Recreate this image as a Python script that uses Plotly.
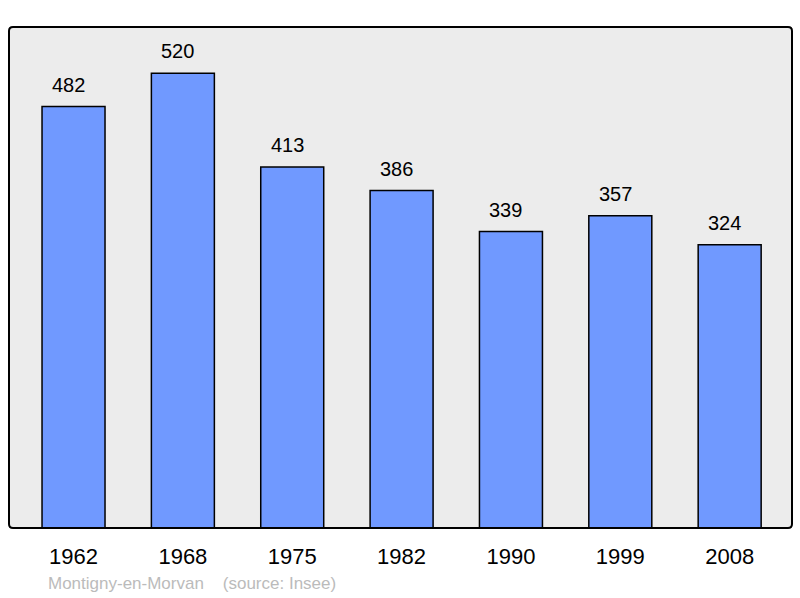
import plotly.graph_objects as go

years = ["1962", "1968", "1975", "1982", "1990", "1999", "2008"]
population = [482, 520, 413, 386, 339, 357, 324]

W, H = 800, 598
L, R, T, B = 9, 8, 27, 70
pw, ph = W - L - R, H - T - B

fig = go.Figure()
fig.add_trace(go.Bar(
    x=list(range(len(years))), y=population,
    width=0.576,
    marker=dict(color="#7099ff", line=dict(color="#000000", width=1.5)),
    hoverinfo="skip",
))

for i, v in enumerate(population):
    fig.add_annotation(x=i, y=v, text=str(v), showarrow=False,
                       yanchor="bottom", yshift=9, xshift=-5,
                       font=dict(family="Liberation Sans, Arial", size=20, color="#000000"))

fig.add_annotation(xref="paper", yref="paper", x=0, y=0, xanchor="left", yanchor="top",
                   xshift=37, yshift=-44, showarrow=False,
                   text="Montigny-en-Morvan    (source: Insee)",
                   font=dict(family="Liberation Sans, Arial", size=17, color="#bbbbbb"))

rx, ry = 4 / pw, 4 / ph
path = (f"M {rx},0 L {1-rx},0 Q 1,0 1,{ry} L 1,{1-ry} Q 1,1 {1-rx},1 "
        f"L {rx},1 Q 0,1 0,{1-ry} L 0,{ry} Q 0,0 {rx},0 Z")
fig.add_shape(type="path", xref="paper", yref="paper", path=path,
              line=dict(color="#000000", width=2), layer="above")

fig.update_layout(
    width=W, height=H,
    margin=dict(l=L, r=R, t=T, b=B),
    paper_bgcolor="#ffffff", plot_bgcolor="#ececec",
    showlegend=False,
    hovermode=False,
    xaxis=dict(range=[-0.59, 6.57], tickmode="array", tickvals=list(range(len(years))),
               ticktext=years, showgrid=False, zeroline=False, showline=False,
               ticks="", tickfont=dict(family="Liberation Sans, Arial", size=22, color="#000000"),
               ticklabelstandoff=13),
    yaxis=dict(range=[0, 573], showgrid=False, zeroline=False, showticklabels=False,
               showline=False, ticks=""),
)

fig.write_html("out.html", config={"displayModeBar": False},
               post_script="document.body.style.margin='0';document.body.style.overflow='hidden';")
